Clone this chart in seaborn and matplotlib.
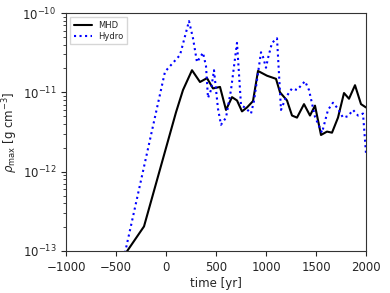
import pandas as pd
import matplotlib
matplotlib.use('Agg')
import matplotlib.pyplot as plt
import seaborn as sns


# MHD run
t_mhd = [-400, -220, 100, 170, 260, 340, 410, 470, 540, 600, 660, 710, 760, 810,
         870, 920, 1010, 1100, 1140, 1210, 1260, 1310, 1380, 1440, 1490, 1550,
         1610, 1660, 1720, 1780, 1830, 1890, 1950, 2000]
rho_mhd = [0.95e-13, 2.04e-13, 5.6e-12, 1.07e-11, 1.9e-11, 1.35e-11, 1.51e-11,
           1.12e-11, 1.17e-11, 6.0e-12, 8.7e-12, 7.9e-12, 5.75e-12, 6.45e-12,
           7.75e-12, 1.86e-11, 1.62e-11, 1.48e-11, 1.0e-11, 7.9e-12, 5.1e-12,
           4.8e-12, 7.1e-12, 5.1e-12, 6.8e-12, 2.9e-12, 3.2e-12, 3.1e-12,
           4.8e-12, 9.8e-12, 8.3e-12, 1.23e-11, 7.1e-12, 6.45e-12]

# Hydro run
t_hyd = [-410, -10, 140, 230, 270, 310, 370, 400, 420, 450, 480, 520, 550, 600,
         650, 710, 750, 800, 850, 880, 950, 970, 1000, 1020, 1060, 1110, 1150,
         1200, 1260, 1310, 1390, 1430, 1490, 1560, 1620, 1670, 1720, 1770, 1820,
         1870, 1920, 1970, 2000]
rho_hyd = [0.95e-13, 1.82e-11, 2.95e-11, 7.9e-11, 4.8e-11, 2.4e-11, 3.16e-11,
           2.14e-11, 8.5e-12, 1.07e-11, 1.9e-11, 6.2e-12, 3.9e-12, 4.8e-12,
           1.07e-11, 4.2e-11, 6.9e-12, 6.3e-12, 5.4e-12, 7.8e-12, 3.2e-11,
           2.8e-11, 2.04e-11, 2.7e-11, 4.2e-11, 4.8e-11, 6.0e-12, 8.7e-12,
           1.12e-11, 1.07e-11, 1.38e-11, 1.07e-11, 4.9e-12, 3.1e-12, 6.0e-12,
           7.4e-12, 6.2e-12, 4.8e-12, 5.0e-12, 6.0e-12, 5.1e-12, 5.4e-12, 1.7e-12]

x_ticks = [-1000, -500, 0, 500, 1000, 1500, 2000]

df_mhd = pd.DataFrame({'time': t_mhd, 'rho': rho_mhd})
df_hyd = pd.DataFrame({'time': t_hyd, 'rho': rho_hyd})

sns.set_style('ticks')
plt.rcParams['font.family'] = ['DejaVu Sans']

fig = plt.figure(figsize=(3.9, 2.93), dpi=100)
ax = fig.add_axes([66 / 390, 42 / 293, 300 / 390, 238 / 293])

sns.lineplot(data=df_mhd, x='time', y='rho', ax=ax, color='black', lw=1.5,
             sort=False, estimator=None, label='MHD')
sns.lineplot(data=df_hyd, x='time', y='rho', ax=ax, color='blue', lw=1.5,
             linestyle=':', sort=False, estimator=None, label='Hydro')

ax.set_yscale('log')
ax.set_xlim(-1000, 2000)
ax.set_ylim(1e-13, 1e-10)
ax.set_xticks(x_ticks)
ax.tick_params(labelsize=8.5, width=0.8, length=3.5)
ax.tick_params(which='minor', width=0.6, length=2)
ax.set_xlabel('time [yr]', fontsize=8.5, labelpad=2)
ax.set_ylabel(r'$\rho_{\rm max}$ [g cm$^{-3}$]', fontsize=8.5, labelpad=2)
for s in ax.spines.values():
    s.set_color('0.2')
    s.set_linewidth(0.8)

ax.legend(loc='upper left', fontsize=6, handlelength=2.2, borderpad=0.4,
          labelspacing=0.3, fancybox=False, edgecolor='0.8')

fig.savefig('out.png', dpi=100)
